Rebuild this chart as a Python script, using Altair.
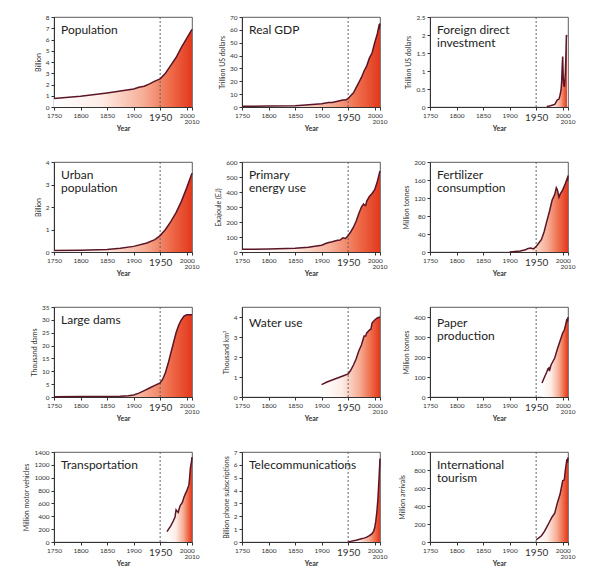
import altair as alt
import pandas as pd

# ---------------- data ----------------
pop_years = [1750, 1800, 1850, 1900, 1910, 1920, 1930, 1940, 1950, 1960, 1970, 1980, 1990, 2000, 2010]
pop_vals = [0.75, 0.95, 1.25, 1.6, 1.75, 1.85, 2.05, 2.3, 2.5, 3.0, 3.7, 4.4, 5.3, 6.1, 6.9]

gdp_years = [1750, 1800, 1850, 1870, 1900, 1913, 1920, 1930, 1940, 1945, 1950, 1955, 1960, 1965,
             1970, 1975, 1980, 1985, 1990, 1995, 2000, 2005, 2008, 2009, 2010]
gdp_vals = [0.5, 0.7, 0.9, 1.5, 2.5, 3.5, 3.5, 4.5, 5.5, 5.5, 6.5, 9, 11, 15,
            19, 23, 28, 32, 38, 42, 50, 57, 63, 62, 65]

fdi_years = [1970, 1975, 1980, 1985, 1988, 1990, 1993, 1995, 1997, 1998, 1999, 2000, 2001, 2002,
             2003, 2004, 2005, 2006, 2007, 2008]
fdi_vals = [0.013, 0.03, 0.05, 0.07, 0.15, 0.2, 0.22, 0.33, 0.48, 0.7, 1.1, 1.4, 0.8, 0.62,
            0.56, 0.72, 0.95, 1.4, 2.0, 1.95]

urb_years = [1750, 1800, 1850, 1875, 1900, 1925, 1940, 1950, 1960, 1970, 1980, 1990, 2000, 2010]
urb_vals = [0.07, 0.08, 0.11, 0.17, 0.25, 0.4, 0.55, 0.73, 1.0, 1.35, 1.75, 2.25, 2.85, 3.5]

ene_years = [1750, 1800, 1850, 1875, 1900, 1910, 1920, 1930, 1935, 1940, 1945, 1950, 1955, 1960,
             1965, 1970, 1975, 1979, 1980, 1983, 1985, 1990, 1995, 2000, 2005, 2010]
ene_vals = [18, 20, 25, 32, 45, 60, 68, 78, 80, 95, 90, 110, 135, 165,
            205, 255, 300, 320, 315, 310, 340, 370, 390, 415, 470, 540]

fer_years = [1900, 1910, 1920, 1930, 1935, 1940, 1945, 1950, 1955, 1960, 1965, 1970, 1975, 1980,
             1985, 1988, 1990, 1993, 1995, 2000, 2005, 2008, 2009, 2010]
fer_vals = [0, 1, 2, 5, 8, 9, 7, 12, 20, 28, 45, 68, 90, 115,
            128, 143, 138, 122, 128, 138, 152, 162, 158, 170]

dam_years = [1750, 1800, 1850, 1875, 1890, 1900, 1910, 1920, 1930, 1940, 1950, 1955, 1960, 1965,
             1970, 1975, 1980, 1985, 1990, 1995, 2000, 2005, 2010]
dam_vals = [0.1, 0.15, 0.2, 0.3, 0.5, 0.8, 1.5, 2.5, 3.5, 4.5, 5.5, 7, 9.5, 13,
            17, 21, 25, 28, 30, 31.5, 32, 32, 32]

wat_years = [1900, 1910, 1920, 1930, 1940, 1950, 1955, 1960, 1965, 1970, 1975, 1980, 1983, 1985,
             1990, 1993, 1995, 2000, 2005, 2010]
wat_vals = [0.62, 0.75, 0.85, 0.95, 1.05, 1.15, 1.35, 1.6, 1.9, 2.3, 2.6, 3.05, 3.05, 3.2,
            3.35, 3.4, 3.7, 3.85, 3.95, 4.0]

pap_years = [1961, 1965, 1970, 1972, 1974, 1975, 1978, 1980, 1985, 1990, 1995, 2000, 2003, 2005,
             2008, 2009, 2010]
pap_vals = [70, 95, 125, 140, 145, 130, 160, 170, 195, 240, 280, 320, 335, 355,
            390, 375, 400]

tra_years = [1963, 1965, 1970, 1975, 1978, 1980, 1982, 1984, 1986, 1988, 1990, 1992, 1995, 1998,
             2000, 2002, 2004, 2005, 2006, 2007, 2008, 2009, 2010]
tra_vals = [160, 190, 250, 330, 390, 500, 480, 460, 520, 570, 590, 620, 700, 760,
            790, 840, 880, 950, 1050, 1150, 1200, 1250, 1320]

tel_years = [1950, 1955, 1960, 1965, 1970, 1975, 1980, 1985, 1990, 1995, 1998, 2000, 2002, 2004,
             2006, 2008, 2010]
tel_vals = [0.0, 0.05, 0.1, 0.14, 0.2, 0.25, 0.3, 0.38, 0.5, 0.65, 0.85, 1.1, 1.6, 2.3,
            3.3, 4.8, 6.5]

tou_years = [1950, 1955, 1960, 1965, 1970, 1975, 1980, 1985, 1990, 1995, 2000, 2003, 2005, 2008,
             2009, 2010]
tou_vals = [25, 46, 69, 112, 166, 222, 278, 320, 435, 530, 680, 690, 800, 920,
             880, 940]

titles = [
    ["Population"], ["Real GDP"], ["Foreign direct", "investment"],
    ["Urban", "population"], ["Primary", "energy use"], ["Fertilizer", "consumption"],
    ["Large dams"], ["Water use"], ["Paper", "production"],
    ["Transportation"], ["Telecommunications"], ["International", "tourism"],
]
y_titles = [
    "Billion", "Trillion US dollars", "Trillion US dollars",
    "Billion", "Exajoule (EJ)", "Million tonnes",
    "Thousand dams", "Thousand km³", "Million tonnes",
    "Million motor vehicles", "Billion phone subscriptions", "Million arrivals",
]
y_ticks = [
    [0, 1, 2, 3, 4, 5, 6, 7, 8],
    [0, 10, 20, 30, 40, 50, 60, 70],
    [0, 0.5, 1, 1.5, 2, 2.5],
    [0, 1, 2, 3, 4],
    [0, 100, 200, 300, 400, 500, 600],
    [0, 40, 80, 120, 160, 200],
    [0, 5, 10, 15, 20, 25, 30, 35],
    [0, 1, 2, 3, 4],
    [0, 100, 200, 300, 400],
    [0, 200, 400, 600, 800, 1000, 1200, 1400],
    [0, 1, 2, 3, 4, 5, 6, 7],
    [0, 200, 400, 600, 800, 1000],
]
y_max = [8, 70, 2.5, 4, 600, 200, 35, 4.5, 450, 1400, 7, 1000]
series = [
    (pop_years, pop_vals), (gdp_years, gdp_vals), (fdi_years, fdi_vals),
    (urb_years, urb_vals), (ene_years, ene_vals), (fer_years, fer_vals),
    (dam_years, dam_vals), (wat_years, wat_vals), (pap_years, pap_vals),
    (tra_years, tra_vals), (tel_years, tel_vals), (tou_years, tou_vals),
]
x_ticks = [1750, 1800, 1850, 1900, 1950, 2000, 2010]
end_year = [2010]
end_label = ["2010"]
marker_year = [1950]

FONT = "Lato"
W, H = 138, 90
TITLE_SIZE = 12
TITLE_LH = 13

fill = alt.Gradient(
    gradient="linear", x1=0, y1=0, x2=1, y2=0,
    stops=[
        alt.GradientStop(color="#ffffff", offset=0),
        alt.GradientStop(color="#fdece6", offset=0.35),
        alt.GradientStop(color="#f6ad95", offset=0.65),
        alt.GradientStop(color="#ee6a48", offset=0.85),
        alt.GradientStop(color="#e2381d", offset=1),
    ],
)

x_axis = alt.Axis(
    values=x_ticks, tickCount=20, title="Year", titleFontWeight="bold", titleFontSize=7,
    titlePadding=2,
    labelFontSize={"condition": {"test": "datum.value == 1950", "value": 10}, "value": 6.5},
    labelExpr="datum.value == 2010 ? '' : datum.label",
    labelOverlap=False, labelFlush=False, format="d", grid=False,
    tickSize=3, labelPadding=2,
)


def panel(i):
    yrs, vals = series[i]
    df = pd.DataFrame({"year": yrs, "value": vals})
    xs = alt.Scale(domain=[1750, 2010], nice=False, zero=False)
    x = alt.X("year:Q", scale=xs, axis=x_axis)
    y = alt.Y("value:Q", scale=alt.Scale(domain=[0, y_max[i]], nice=False),
              axis=alt.Axis(values=y_ticks[i], tickCount=20, title=y_titles[i], format="~r",
                            grid=False, titleFontSize=7, titleFontWeight="normal",
                            labelFontSize=6.5, tickSize=3, labelPadding=2, titlePadding=4))
    base = alt.Chart(df)
    area = base.mark_area(color=fill, opacity=1).encode(x=x, y=y)
    line = base.mark_line(color="#5a1626", strokeWidth=1.5).encode(x=x, y=y)
    rule = alt.Chart(pd.DataFrame({"year": marker_year})).mark_rule(
        color="#666666", strokeDash=[2, 2], strokeWidth=1
    ).encode(x=alt.X("year:Q", scale=xs))
    lab = alt.Chart(pd.DataFrame({"year": end_year, "label": end_label})).mark_text(
        baseline="top", align="center", fontSize=6.5, font=FONT, color="#333333", dy=12
    ).encode(x=alt.X("year:Q", scale=xs), y=alt.value(H), text="label:N")
    n = len(titles[i])
    return alt.layer(area, rule, line, lab).properties(
        width=W, height=H,
        title=alt.TitleParams(
            text=titles[i], anchor="start", frame="group", orient="top",
            offset=-(23 + TITLE_LH * (n - 1)), dx=7, baseline="top", font=FONT,
            fontSize=TITLE_SIZE, fontWeight="normal", color="#222222", lineHeight=TITLE_LH,
        ),
    )


chart = alt.concat(
    *[panel(i) for i in range(12)], columns=3, bounds="flush",
    spacing={"row": 55, "column": 50},
).properties(
    padding={"left": 14, "top": 5, "right": 5, "bottom": 5}
).configure_view(
    stroke="#333333", strokeWidth=0.8
).configure_axis(
    domainColor="#333333", tickColor="#333333", labelColor="#333333",
    titleColor="#333333", labelFont=FONT, titleFont=FONT,
)

chart.save("out.html", embed_options={"renderer": "svg", "actions": False})
